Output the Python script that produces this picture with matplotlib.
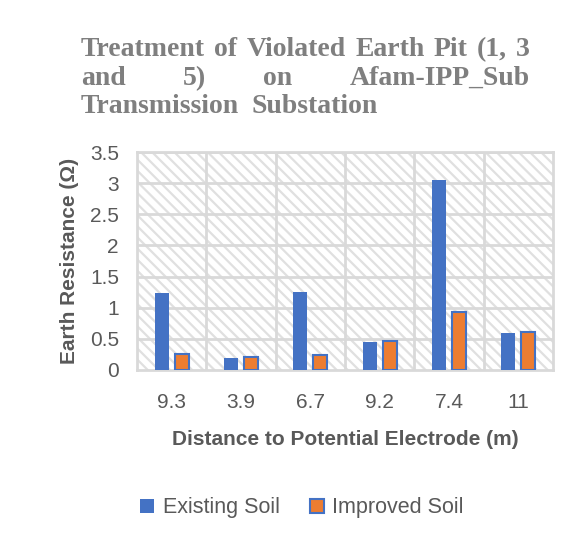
import matplotlib
matplotlib.use('Agg')
import matplotlib.pyplot as plt
from matplotlib.patches import Rectangle
import numpy as np

# data
distances = ['9.3', '3.9', '6.7', '9.2', '7.4', '11']
existing_soil = [1.23, 0.19, 1.25, 0.445, 3.06, 0.585]
improved_soil = [0.25, 0.20, 0.24, 0.46, 0.92, 0.60]
yticks = [0, 0.5, 1, 1.5, 2, 2.5, 3, 3.5]
ytick_labels = ['0', '0.5', '1', '1.5', '2', '2.5', '3', '3.5']
title_lines = ['Treatment of Violated Earth Pit (1, 3',
               'and 5) on Afam-IPP_Sub',
               'Transmission Substation']

W, H = 579, 541
blue = '#4472C4'
orange = '#ED7D31'
grid_c = '#D9D9D9'
txt_c = '#595959'

plt.rcParams['hatch.linewidth'] = 1.6

fig = plt.figure(figsize=(W/100, H/100), dpi=100)
ax = fig.add_axes([137/W, 1-369.5/H, (553-137)/W, (369.5-152.5)/H])

# hatched plot-area background
bg = Rectangle((0, 0), 1, 1, transform=ax.transAxes, facecolor='white',
               edgecolor='#E0E0E0', linewidth=0, hatch='\\\\\\', zorder=0)
ax.add_patch(bg)

x = np.arange(len(distances))
ax.bar(x-0.145, existing_soil, width=0.2, color=blue, zorder=3, label='Existing Soil')
ax.bar(x+0.145, improved_soil, width=0.2, color=orange, edgecolor=blue, linewidth=1.5,
       zorder=3, label='Improved Soil')

ax.set_xlim(-0.5, len(distances)-0.5)
ax.set_ylim(0, 3.5)
ax.set_yticks(yticks)
ax.set_yticklabels(ytick_labels)
ax.set_xticks(x)
ax.set_xticklabels(distances)
# grid: horizontal at y ticks, vertical at category boundaries
for yv in yticks[1:]:
    ax.axhline(yv, color=grid_c, linewidth=2, zorder=1)
for xv in np.arange(0.5, len(distances)-0.5):
    ax.axvline(xv, color=grid_c, linewidth=2, zorder=1)
for s in ax.spines.values():
    s.set_color(grid_c)
    s.set_linewidth(2)
    s.set_zorder(2)

ax.tick_params(axis='both', length=0, labelsize=15, labelcolor=txt_c,
               labelfontfamily='Liberation Sans')
ax.tick_params(axis='y', pad=13)
ax.tick_params(axis='x', pad=17)

ax.set_ylabel('Earth Resistance (\u03a9)', fontsize=15, fontweight='bold', color=txt_c,
              family='Liberation Sans', labelpad=8)
ax.set_xlabel('Distance to Potential Electrode (m)', fontsize=15, fontweight='bold',
              color=txt_c, family='Liberation Sans', labelpad=13)

leg = fig.legend(loc='center', bbox_to_anchor=(302/W, 1-508/H), ncol=2, frameon=False,
                 handlelength=0.65, handleheight=0.65, handletextpad=0.4, columnspacing=1.4,
                 prop={'family': 'Liberation Sans', 'size': 15.5})
for t in leg.get_texts():
    t.set_color(txt_c)

# justified title, word by word
renderer = fig.canvas.get_renderer()
left, right = 81, 530
baselines = [56.5, 85, 113]
for i, line in enumerate(title_lines):
    words = line.split()
    arts = [fig.text(0, 1-baselines[i]/H, w, fontsize=20, fontweight='bold',
                     family='Liberation Serif', color='#7F7F7F', va='baseline')
            for w in words]
    widths = [a.get_window_extent(renderer).width for a in arts]
    if i < len(title_lines)-1:
        gap = (right-left-sum(widths))/(len(words)-1)
    else:
        gap = 12
    xpos = left
    for a, w in zip(arts, widths):
        a.set_x(xpos/W)
        xpos += w + gap

fig.savefig('out.png', dpi=100)
